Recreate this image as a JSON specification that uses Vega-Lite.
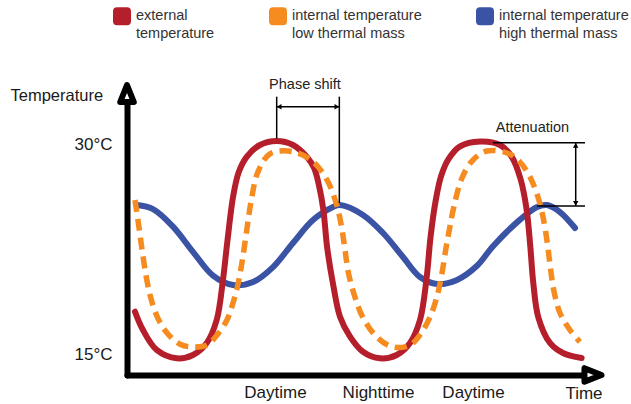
{
  "$schema": "https://vega.github.io/schema/vega-lite/v6.json",
  "width": 467.5,
  "height": 280,
  "autosize": {"type": "none"},
  "padding": {"left": 127, "top": 95, "right": 36.5, "bottom": 29},
  "background": "white",
  "config": {"view": {"stroke": null}, "font": "Liberation Sans"},
  "datasets": {
    "curves": [
      {"series": "external temperature", "t": 0.94, "temp": 18.02},
      {"series": "external temperature", "t": 1.88, "temp": 16.71},
      {"series": "external temperature", "t": 3.49, "temp": 15.29},
      {"series": "external temperature", "t": 5.85, "temp": 14.69},
      {"series": "external temperature", "t": 7.76, "temp": 14.93},
      {"series": "external temperature", "t": 9.38, "temp": 15.79},
      {"series": "external temperature", "t": 10.55, "temp": 17.43},
      {"series": "external temperature", "t": 11.29, "temp": 20.29},
      {"series": "external temperature", "t": 11.8, "temp": 23.0},
      {"series": "external temperature", "t": 12.5, "temp": 26.3},
      {"series": "external temperature", "t": 13.15, "temp": 28.0},
      {"series": "external temperature", "t": 14.1, "temp": 29.1},
      {"series": "external temperature", "t": 15.65, "temp": 29.93},
      {"series": "external temperature", "t": 17.61, "temp": 30.21},
      {"series": "external temperature", "t": 19.53, "temp": 29.93},
      {"series": "external temperature", "t": 21.14, "temp": 29.09},
      {"series": "external temperature", "t": 22.0, "temp": 28.3},
      {"series": "external temperature", "t": 22.6, "temp": 27.0},
      {"series": "external temperature", "t": 23.1, "temp": 25.3},
      {"series": "external temperature", "t": 23.55, "temp": 22.6},
      {"series": "external temperature", "t": 24.24, "temp": 20.0},
      {"series": "external temperature", "t": 25.06, "temp": 17.66},
      {"series": "external temperature", "t": 26.24, "temp": 16.24},
      {"series": "external temperature", "t": 27.76, "temp": 15.16},
      {"series": "external temperature", "t": 29.76, "temp": 14.69},
      {"series": "external temperature", "t": 31.73, "temp": 14.93},
      {"series": "external temperature", "t": 33.29, "temp": 15.79},
      {"series": "external temperature", "t": 34.47, "temp": 17.43},
      {"series": "external temperature", "t": 35.26, "temp": 20.5},
      {"series": "external temperature", "t": 35.7, "temp": 23.3},
      {"series": "external temperature", "t": 36.3, "temp": 25.9},
      {"series": "external temperature", "t": 36.95, "temp": 27.7},
      {"series": "external temperature", "t": 37.8, "temp": 28.9},
      {"series": "external temperature", "t": 39.18, "temp": 29.83},
      {"series": "external temperature", "t": 41.53, "temp": 30.18},
      {"series": "external temperature", "t": 43.88, "temp": 29.93},
      {"series": "external temperature", "t": 45.26, "temp": 29.09},
      {"series": "external temperature", "t": 46.3, "temp": 27.5},
      {"series": "external temperature", "t": 47.02, "temp": 25.29},
      {"series": "external temperature", "t": 47.45, "temp": 22.66},
      {"series": "external temperature", "t": 47.8, "temp": 20.07},
      {"series": "external temperature", "t": 48.4, "temp": 17.6},
      {"series": "external temperature", "t": 49.76, "temp": 15.79},
      {"series": "external temperature", "t": 51.29, "temp": 15.07},
      {"series": "external temperature", "t": 53.49, "temp": 14.71},

      {"series": "internal temperature, low thermal mass", "t": 0.94, "temp": 26.0},
      {"series": "internal temperature, low thermal mass", "t": 1.35, "temp": 24.3},
      {"series": "internal temperature, low thermal mass", "t": 1.76, "temp": 22.5},
      {"series": "internal temperature, low thermal mass", "t": 2.24, "temp": 20.6},
      {"series": "internal temperature, low thermal mass", "t": 2.8, "temp": 19.0},
      {"series": "internal temperature, low thermal mass", "t": 3.6, "temp": 17.6},
      {"series": "internal temperature, low thermal mass", "t": 4.71, "temp": 16.5},
      {"series": "internal temperature, low thermal mass", "t": 6.24, "temp": 15.7},
      {"series": "internal temperature, low thermal mass", "t": 7.76, "temp": 15.5},
      {"series": "internal temperature, low thermal mass", "t": 9.41, "temp": 15.64},
      {"series": "internal temperature, low thermal mass", "t": 10.59, "temp": 16.36},
      {"series": "internal temperature, low thermal mass", "t": 11.76, "temp": 17.43},
      {"series": "internal temperature, low thermal mass", "t": 12.47, "temp": 18.64},
      {"series": "internal temperature, low thermal mass", "t": 13.06, "temp": 20.0},
      {"series": "internal temperature, low thermal mass", "t": 13.6, "temp": 21.8},
      {"series": "internal temperature, low thermal mass", "t": 14.1, "temp": 23.9},
      {"series": "internal temperature, low thermal mass", "t": 14.6, "temp": 25.9},
      {"series": "internal temperature, low thermal mass", "t": 15.4, "temp": 28.0},
      {"series": "internal temperature, low thermal mass", "t": 16.82, "temp": 29.3},
      {"series": "internal temperature, low thermal mass", "t": 19.53, "temp": 29.45},
      {"series": "internal temperature, low thermal mass", "t": 21.88, "temp": 28.74},
      {"series": "internal temperature, low thermal mass", "t": 23.53, "temp": 27.43},
      {"series": "internal temperature, low thermal mass", "t": 24.6, "temp": 25.79},
      {"series": "internal temperature, low thermal mass", "t": 25.25, "temp": 24.07},
      {"series": "internal temperature, low thermal mass", "t": 25.65, "temp": 22.43},
      {"series": "internal temperature, low thermal mass", "t": 26.05, "temp": 20.79},
      {"series": "internal temperature, low thermal mass", "t": 26.82, "temp": 19.07},
      {"series": "internal temperature, low thermal mass", "t": 27.76, "temp": 17.6},
      {"series": "internal temperature, low thermal mass", "t": 29.41, "temp": 16.2},
      {"series": "internal temperature, low thermal mass", "t": 31.29, "temp": 15.5},
      {"series": "internal temperature, low thermal mass", "t": 33.29, "temp": 15.64},
      {"series": "internal temperature, low thermal mass", "t": 34.47, "temp": 16.36},
      {"series": "internal temperature, low thermal mass", "t": 35.65, "temp": 17.64},
      {"series": "internal temperature, low thermal mass", "t": 36.47, "temp": 19.1},
      {"series": "internal temperature, low thermal mass", "t": 37.06, "temp": 20.79},
      {"series": "internal temperature, low thermal mass", "t": 37.55, "temp": 22.64},
      {"series": "internal temperature, low thermal mass", "t": 37.94, "temp": 23.93},
      {"series": "internal temperature, low thermal mass", "t": 38.45, "temp": 25.5},
      {"series": "internal temperature, low thermal mass", "t": 39.41, "temp": 27.57},
      {"series": "internal temperature, low thermal mass", "t": 40.71, "temp": 28.86},
      {"series": "internal temperature, low thermal mass", "t": 42.35, "temp": 29.5},
      {"series": "internal temperature, low thermal mass", "t": 44.71, "temp": 29.36},
      {"series": "internal temperature, low thermal mass", "t": 46.24, "temp": 28.71},
      {"series": "internal temperature, low thermal mass", "t": 47.41, "temp": 27.64},
      {"series": "internal temperature, low thermal mass", "t": 48.35, "temp": 26.21},
      {"series": "internal temperature, low thermal mass", "t": 48.94, "temp": 24.79},
      {"series": "internal temperature, low thermal mass", "t": 49.45, "temp": 22.93},
      {"series": "internal temperature, low thermal mass", "t": 49.8, "temp": 21.21},
      {"series": "internal temperature, low thermal mass", "t": 50.2, "temp": 19.57},
      {"series": "internal temperature, low thermal mass", "t": 50.94, "temp": 17.93},
      {"series": "internal temperature, low thermal mass", "t": 52.12, "temp": 16.71},
      {"series": "internal temperature, low thermal mass", "t": 53.29, "temp": 15.86},

      {"series": "internal temperature, high thermal mass", "t": 1.18, "temp": 25.64},
      {"series": "internal temperature, high thermal mass", "t": 3.06, "temp": 25.35},
      {"series": "internal temperature, high thermal mass", "t": 5.41, "temp": 24.1},
      {"series": "internal temperature, high thermal mass", "t": 7.76, "temp": 22.3},
      {"series": "internal temperature, high thermal mass", "t": 10.12, "temp": 20.6},
      {"series": "internal temperature, high thermal mass", "t": 12.47, "temp": 19.93},
      {"series": "internal temperature, high thermal mass", "t": 14.82, "temp": 20.14},
      {"series": "internal temperature, high thermal mass", "t": 17.18, "temp": 21.21},
      {"series": "internal temperature, high thermal mass", "t": 19.53, "temp": 22.93},
      {"series": "internal temperature, high thermal mass", "t": 21.88, "temp": 24.57},
      {"series": "internal temperature, high thermal mass", "t": 24.24, "temp": 25.5},
      {"series": "internal temperature, high thermal mass", "t": 25.06, "temp": 25.64},
      {"series": "internal temperature, high thermal mass", "t": 27.76, "temp": 24.93},
      {"series": "internal temperature, high thermal mass", "t": 30.12, "temp": 23.64},
      {"series": "internal temperature, high thermal mass", "t": 32.47, "temp": 21.93},
      {"series": "internal temperature, high thermal mass", "t": 34.47, "temp": 20.5},
      {"series": "internal temperature, high thermal mass", "t": 36.47, "temp": 20.0},
      {"series": "internal temperature, high thermal mass", "t": 38.82, "temp": 20.29},
      {"series": "internal temperature, high thermal mass", "t": 41.18, "temp": 21.3},
      {"series": "internal temperature, high thermal mass", "t": 43.06, "temp": 22.7},
      {"series": "internal temperature, high thermal mass", "t": 46.24, "temp": 24.6},
      {"series": "internal temperature, high thermal mass", "t": 48.24, "temp": 25.5},
      {"series": "internal temperature, high thermal mass", "t": 49.41, "temp": 25.64},
      {"series": "internal temperature, high thermal mass", "t": 50.94, "temp": 25.14},
      {"series": "internal temperature, high thermal mass", "t": 52.71, "temp": 24.0}
    ],
    "guides": [
      {"t": 17.61, "t2": 17.61, "temp": 30.4, "temp2": 33.38},
      {"t": 24.98, "t2": 24.98, "temp": 25.8, "temp2": 33.38},
      {"t": 17.61, "t2": 24.98, "temp": 32.66, "temp2": 32.66},
      {"t": 43.06, "t2": 53.88, "temp": 30.09, "temp2": 30.09},
      {"t": 48.24, "t2": 53.88, "temp": 25.57, "temp2": 25.57},
      {"t": 52.79, "t2": 52.79, "temp": 25.57, "temp2": 30.09}
    ],
    "arrowheads": [
      {"t": 17.9, "temp": 32.66, "dir": "left"},
      {"t": 24.69, "temp": 32.66, "dir": "right"},
      {"t": 52.79, "temp": 29.9, "dir": "up"},
      {"t": 52.79, "temp": 25.76, "dir": "down"}
    ],
    "notes": [
      {"t": 20.94, "temp": 34.21, "text": "Phase shift"},
      {"t": 47.7, "temp": 31.14, "text": "Attenuation"}
    ]
  },
  "encoding": {
    "x": {
      "field": "t", "type": "quantitative",
      "scale": {"domain": [0, 55], "nice": false, "zero": false},
      "axis": {
        "values": [17.41, 29.53, 40.71],
        "labelExpr": "datum.value > 25 && datum.value < 35 ? 'Nighttime' : 'Daytime'",
        "ticks": false, "tickSize": 0, "grid": false,
        "domainColor": "black", "domainWidth": 6, "domainCap": "round",
        "labelFont": "Liberation Sans", "labelFontSize": 17, "labelColor": "#1a1a1a",
        "labelPadding": 9, "labelFlush": false, "labelOverlap": false,
        "title": "Time", "titleX": 456.5, "titleY": 18, "titleAlign": "center",
        "titleBaseline": "middle", "titleFont": "Liberation Sans", "titleFontSize": 17,
        "titleFontWeight": "normal", "titleColor": "#1a1a1a"
      }
    },
    "y": {
      "field": "temp", "type": "quantitative",
      "scale": {"domain": [13.5, 33.5], "nice": false, "zero": false},
      "axis": {
        "values": [15, 30],
        "labelExpr": "datum.value + '°C'",
        "ticks": false, "tickSize": 0, "grid": false,
        "domainColor": "black", "domainWidth": 6, "domainCap": "round",
        "labelFont": "Liberation Sans", "labelFontSize": 17, "labelColor": "#1a1a1a",
        "labelPadding": 15, "labelOverlap": false,
        "title": "Temperature", "titleAngle": 0, "titleX": -117, "titleY": 0,
        "titleAlign": "left", "titleBaseline": "middle", "titleFont": "Liberation Sans",
        "titleFontSize": 16.5, "titleFontWeight": "normal", "titleColor": "#1a1a1a"
      }
    }
  },
  "layer": [
    {
      "data": {"name": "curves"},
      "encoding": {
        "color": {
          "field": "series", "type": "nominal",
          "scale": {
            "domain": ["external temperature", "internal temperature, low thermal mass", "internal temperature, high thermal mass"],
            "range": ["#b51f2c", "#f68b1f", "#3a53a4"]
          },
          "legend": {
            "orient": "none", "legendX": -14, "legendY": -88, "direction": "horizontal",
            "title": null, "padding": 0,
            "symbolType": "M-0.55,-1L0.55,-1Q1,-1 1,-0.55L1,0.55Q1,1 0.55,1L-0.55,1Q-1,1 -1,0.55L-1,-0.55Q-1,-1 -0.55,-1Z",
            "symbolSize": 324, "symbolStrokeWidth": 0, "symbolOpacity": 1,
            "labelFont": "Liberation Sans", "labelFontSize": 14.5, "labelColor": "#333333",
            "labelOffset": 5, "columnPadding": 54,
            "labelExpr": "datum.label == 'external temperature' ? ['external', 'temperature'] : split(datum.label, ', ')",
            "encode": {
              "symbols": {"update": {"fill": {"scale": "color", "field": "value"}, "opacity": {"value": 1}}},
              "labels": {"update": {"lineHeight": {"value": 18}}}
            }
          }
        }
      },
      "layer": [
        {
          "transform": [{"filter": "datum.series == 'internal temperature, high thermal mass'"}],
          "mark": {"type": "line", "interpolate": "catmull-rom", "strokeWidth": 6, "strokeCap": "round"}
        },
        {
          "transform": [{"filter": "datum.series == 'external temperature'"}],
          "mark": {"type": "line", "interpolate": "catmull-rom", "strokeWidth": 6, "strokeCap": "round"}
        },
        {
          "transform": [{"filter": "datum.series == 'internal temperature, low thermal mass'"}],
          "mark": {"type": "line", "interpolate": "catmull-rom", "strokeWidth": 5.5, "strokeDash": [12, 7]}
        }
      ]
    },
    {
      "data": {"name": "guides"},
      "mark": {"type": "rule", "color": "black", "strokeWidth": 1.5},
      "encoding": {
        "x2": {"field": "t2"},
        "y2": {"field": "temp2"}
      }
    },
    {
      "data": {"name": "arrowheads"},
      "mark": {"type": "point", "filled": true, "color": "black", "size": 30, "opacity": 1},
      "encoding": {
        "shape": {
          "field": "dir", "type": "nominal",
          "scale": {"domain": ["left", "right", "up", "down"], "range": ["triangle-left", "triangle-right", "triangle-up", "triangle-down"]},
          "legend": null
        }
      }
    },
    {
      "data": {"values": [{"t": 0, "temp": 33.607}]},
      "mark": {"type": "point", "shape": "M0,-1L0.8,1L-0.8,1Z", "size": 289, "fill": "white", "fillOpacity": 1, "stroke": "black", "strokeWidth": 6, "strokeJoin": "round", "opacity": 1}
    },
    {
      "data": {"values": [{"t": 54.82, "temp": 13.5}]},
      "mark": {"type": "point", "shape": "M1,0L-1,-0.8L-1,0.8Z", "size": 289, "fill": "white", "fillOpacity": 1, "stroke": "black", "strokeWidth": 6, "strokeJoin": "round", "opacity": 1}
    },
    {
      "data": {"name": "notes"},
      "mark": {"type": "text", "font": "Liberation Sans", "fontSize": 14.5, "color": "#222222", "align": "center", "baseline": "middle"},
      "encoding": {
        "text": {"field": "text"}
      }
    }
  ]
}
